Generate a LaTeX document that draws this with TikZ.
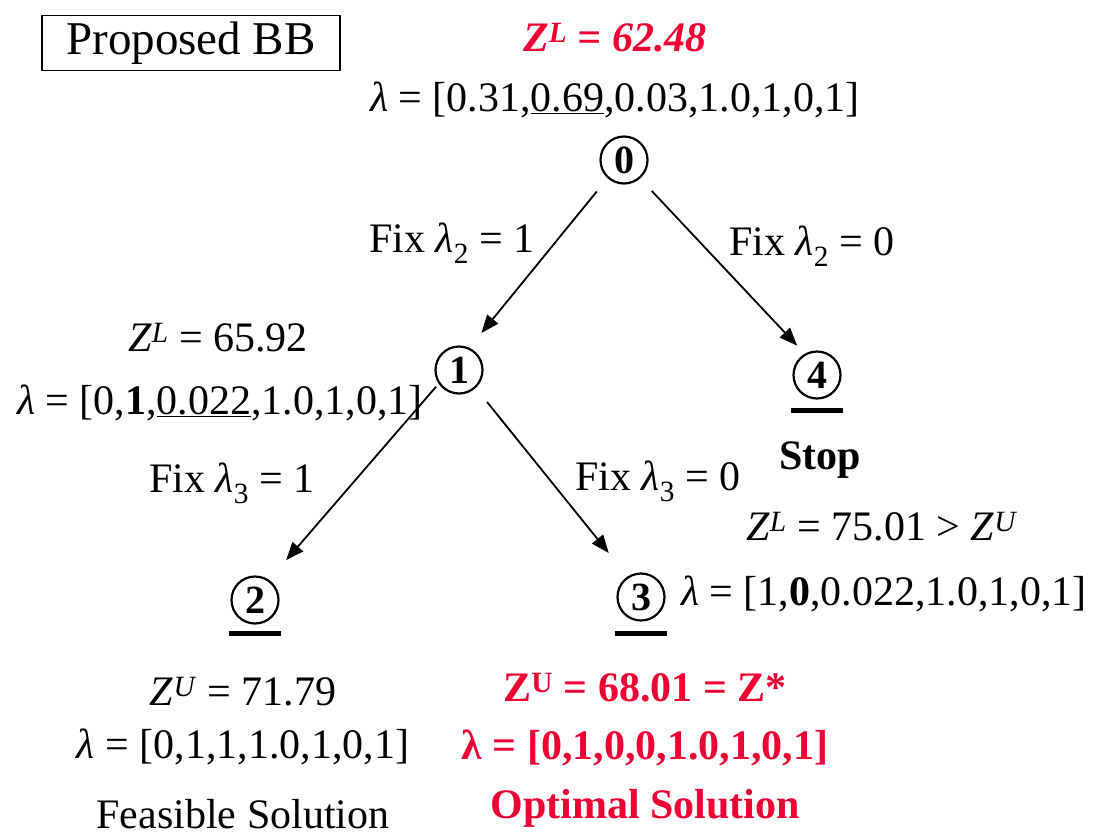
\documentclass[tikz,border=0pt]{standalone}
\usepackage{fontspec}
\setmainfont{Liberation Serif}
\usepackage{tikz}
\usetikzlibrary{arrows.meta}
\definecolor{zred}{HTML}{EE0033}
\newcommand{\lam}{\textit{λ}}
\newcommand{\zsup}[1]{\textit{Z}\textsuperscript{\textit{#1}}}

\begin{document}
\begin{tikzpicture}[x=1pt, y=-1pt,
    bbnode/.style={circle, draw, line width=2.2pt, minimum size=47pt, inner sep=0pt, font=\fontsize{40}{40}\selectfont\bfseries},
    txt/.style={font=\fontsize{42}{48}\selectfont, inner sep=0pt},
    redtxt/.style={txt, text=zred, font=\fontsize{42}{48}\selectfont\bfseries},
    arr/.style={-{Triangle[length=18pt, width=14pt]}, line width=1.8pt},
    bar/.style={line width=5pt},
]
\useasboundingbox (0,0) rectangle (1099,836);

% title box
\node[txt, font=\fontsize{47}{52}\selectfont, draw, line width=1.5pt, minimum width=298pt, minimum height=55pt] (title) at (191,43) {Proposed BB};

% tree nodes
\node[bbnode] (n0) at (624,160) {0};
\node[bbnode] (n1) at (459,370) {1};
\node[bbnode] (n4) at (817,375) {4};
\node[bbnode] (n2) at (255,600) {2};
\node[bbnode] (n3) at (641,597) {3};

% branches
\draw[arr, shorten <=17pt, shorten >=19pt] (n0.228) -- (n1.65);
\draw[arr, shorten <=17pt, shorten >=11pt] (n0.311) -- (n4.120);
\draw[arr, shorten <=4pt, shorten >=26pt] (n1.214) -- (n2.55);
\draw[arr, shorten <=18pt, shorten >=30pt] (n1.313) -- (n3.123);

% pruned / fathomed marks
\draw[bar] ([xshift=-26pt, yshift=-11pt]n4.south) -- ([xshift=26pt, yshift=-11pt]n4.south);
\draw[bar] ([xshift=-26pt, yshift=-9pt]n2.south) -- ([xshift=26pt, yshift=-9pt]n2.south);
\draw[bar] ([xshift=-26pt, yshift=-12pt]n3.south) -- ([xshift=26pt, yshift=-12pt]n3.south);

% root
\node[redtxt, font=\fontsize{42}{48}\selectfont\bfseries\itshape] (z0) at (615,38) {Z\textsuperscript{L} = 62.48};
\node[txt] (l0) at (615,100) {\lam{} = [0.31,\underline{0.69},0.03,1.0,1,0,1]};

% edge labels
\node[txt] (e01) at (452,243) {Fix \lam\textsubscript{2} = 1};
\node[txt] (e04) at (812,246) {Fix \lam\textsubscript{2} = 0};
\node[txt] (e12) at (232,483) {Fix \lam\textsubscript{3} = 1};
\node[txt] (e13) at (658,481) {Fix \lam\textsubscript{3} = 0};

% node 1
\node[txt] (z1) at (218,338) {\zsup{L} = 65.92};
\node[txt] (l1) at (220,403) {\lam{} = [0,\textbf{1},\underline{0.022},1.0,1,0,1]};

% node 4
\node[txt, font=\fontsize{42}{48}\selectfont\bfseries] (s4) at (820,460) {Stop};
\node[txt] (z4) at (882,527) {\zsup{L} = 75.01 > \zsup{U}};
\node[txt] (l4) at (884,594) {\lam{} = [1,\textbf{0},0.022,1.0,1,0,1]};

% node 2
\node[txt] (z2) at (243,692) {\zsup{U} = 71.79};
\node[txt] (l2) at (243,747) {\lam{} = [0,1,1,1.0,1,0,1]};
\node[txt] (f2) at (243,814) {Feasible Solution};

% node 3
\node[redtxt] (z3) at (645,688) {Z\textsuperscript{U} = 68.01 = Z*};
\node[redtxt] (l3) at (645,748) {λ = [0,1,0,0,1.0,1,0,1]};
\node[redtxt] (o3) at (645,808) {Optimal Solution};
\end{tikzpicture}
\end{document}
